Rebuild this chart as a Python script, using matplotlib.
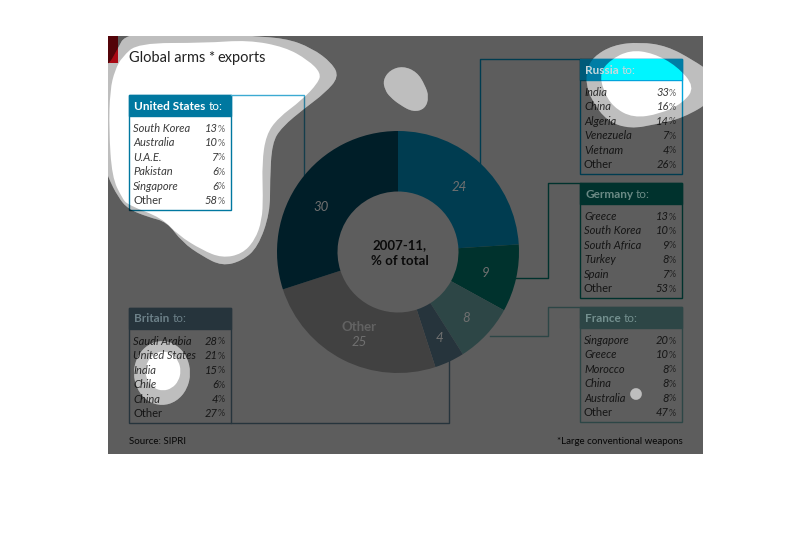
import numpy as np
import matplotlib
matplotlib.use("Agg")
import matplotlib.pyplot as plt
from matplotlib.path import Path
from matplotlib.patches import PathPatch, Rectangle

plt.rcParams['font.family'] = ['Lato', 'DejaVu Sans']

# ---- data ----
pie_values = [24, 9, 8, 4, 25, 30]
pie_colors = ['#00a5dc', '#00897b', '#7bc0c0', '#688ea4', '#b2b2b2', '#00526e']

us_names = ['South Korea', 'Australia', 'U.A.E.', 'Pakistan', 'Singapore', 'Other']
us_share = [13, 10, 7, 6, 6, 58]
russia_names = ['India', 'China', 'Algeria', 'Venezuela', 'Vietnam', 'Other']
russia_share = [33, 16, 14, 7, 4, 26]
germany_names = ['Greece', 'South Korea', 'South Africa', 'Turkey', 'Spain', 'Other']
germany_share = [13, 10, 9, 8, 7, 53]
france_names = ['Singapore', 'Greece', 'Morocco', 'China', 'Australia', 'Other']
france_share = [20, 10, 8, 8, 8, 47]
britain_names = ['Saudi Arabia', 'United States', 'India', 'Chile', 'China', 'Other']
britain_share = [28, 21, 15, 6, 4, 27]

# ---- attention overlay outlines (pixels) ----
big_outer = [(96, 66), (108, 66), (117, 50), (126, 33), (200, 28), (245, 36), (285, 38), (312, 48),
             (332, 63), (339, 77), (325, 93), (305, 108), (282, 127), (272, 143), (270, 180),
             (270, 213), (258, 247), (242, 261), (222, 266), (202, 256), (182, 242), (167, 222),
             (148, 217), (128, 209), (118, 197), (108, 177), (98, 150)]
big_inner = [(115, 70), (122, 57), (138, 43), (205, 43), (248, 40), (285, 47), (308, 60), (321, 73),
             (318, 83), (302, 100), (278, 118), (266, 135), (262, 163), (263, 197), (262, 220),
             (255, 240), (242, 254), (222, 258), (202, 250), (178, 235), (162, 218), (128, 205),
             (122, 198), (112, 177), (109, 130), (110, 90)]
russia_outer = [(587, 70), (593, 57), (613, 45), (640, 42), (667, 46), (693, 60), (712, 73), (714, 100),
                (683, 118), (657, 124), (630, 129), (607, 121), (592, 101), (586, 84)]
russia_inner = [(600, 73), (610, 60), (630, 50), (653, 53), (677, 66), (695, 87), (683, 103),
                (660, 114), (633, 118), (613, 107), (603, 90)]
top_blob = [(383, 80), (390, 70), (403, 66), (417, 72), (425, 85), (429, 97), (425, 109), (413, 112),
            (400, 105), (390, 97), (385, 90)]


def make_ax(z):
    ax = fig.add_axes([0, 0, 1, 1], zorder=z)
    ax.set_xlim(0, 810)
    ax.set_ylim(548, 0)
    ax.axis('off')
    return ax


def ellipse(cx, cy, rx, ry):
    t = np.deg2rad(np.arange(0, 360, 30))
    return list(zip(cx + rx * np.cos(t), cy + ry * np.sin(t)))


def blob_path(points, ccw=True):
    pts = np.array(points, float)
    x, y = pts[:, 0], pts[:, 1]
    area = np.sum(x * np.roll(y, -1) - np.roll(x, -1) * y)
    if (area > 0) != ccw:
        pts = pts[::-1]
    mids = (pts + np.roll(pts, -1, axis=0)) / 2
    verts = [mids[-1]]
    codes = [Path.MOVETO]
    for p, m in zip(pts, mids):
        verts += [p, m]
        codes += [Path.CURVE3, Path.CURVE3]
    return Path(verts, codes)


def box(ax, x0, y0, name, names, share, head_col, line_col, text_col='white', head_text=True):
    ax.add_patch(Rectangle((x0, y0), 102, 115, fc='none', ec=line_col, lw=1))
    ax.add_patch(Rectangle((x0, y0), 102, 21, fc=head_col, ec=line_col, lw=1))
    if head_text:
        head(ax, x0 + 5, y0 + 11, name, text_col)
    for i, (n, v) in enumerate(zip(names, share)):
        y = y0 + 33.5 + i * 14.4
        ax.text(x0 + 4, y, n, fontsize=8, style='normal' if n == 'Other' else 'italic',
                color='#3a3a3a', va='center', ha='left')
        ax.text(x0 + 89, y, str(v), fontsize=8, style='italic', color='#3a3a3a', va='center', ha='right')
        ax.text(x0 + 89, y + 0.5, '%', fontsize=6.5, color='#666666', va='center', ha='left')


def head(ax, x, y, name, col, **kw):
    t = ax.text(x, y, name, fontsize=8.5, fontweight='bold', color=col, va='center', ha='left', **kw)
    end = t.get_window_extent(fig.canvas.get_renderer()).x1
    t2 = ax.text(end + 3, y, 'to:', fontsize=8.5, color=col, va='center', ha='left', **kw)
    return [t, t2]


fig = plt.figure(figsize=(8.1, 5.48), dpi=100, facecolor='white')

# ---- base layer: connectors, boxes, text ----
base = make_ax(1)
conn_us = '#3caad2'
base.plot([231, 304, 304], [95, 95, 175], color=conn_us, lw=1)
base.plot([580, 480, 480], [59, 59, 165], color='#00a5dc', lw=1)
base.plot([580, 548, 548, 515], [183, 183, 278, 278], color='#00897b', lw=1)
base.plot([580, 548, 548, 490], [307, 307, 336, 336], color='#7bc0c0', lw=1)
base.plot([231, 449, 449], [423, 423, 358], color='#688ea4', lw=1)

box(base, 129, 95, 'United States', us_names, us_share, '#0078a0', '#0078a0')
box(base, 580, 59, 'Russia', russia_names, russia_share, '#00a5dc', '#00a5dc', head_text=False)
box(base, 580, 183, 'Germany', germany_names, germany_share, '#00897b', '#00897b', head_text=False)
box(base, 580, 307, 'France', france_names, france_share, '#7bc0c0', '#7bc0c0', head_text=False)
box(base, 129, 308, 'Britain', britain_names, britain_share, '#688ea4', '#688ea4', head_text=False)

base.add_patch(Rectangle((108, 36), 10, 27, fc='#e30d1b', ec='none'))
base.text(129, 58, 'Global arms', fontsize=10.5, color='#222222', va='center', ha='left')
base.text(211, 58, '*', fontsize=10.5, color='#222222', va='center', ha='center')
base.text(217, 58, 'exports', fontsize=10.5, color='#222222', va='center', ha='left')
base.text(129, 441, 'Source: SIPRI', fontsize=7, color='#111111', va='center', ha='left')
base.text(683, 441, '*Large conventional weapons', fontsize=7, color='#111111', va='center', ha='right')

# ---- doughnut ----
cx, cy, r = 398, 252, 121
pie_ax = fig.add_axes([(cx - r) / 810, 1 - (cy + r) / 548, 2 * r / 810, 2 * r / 548], zorder=2)
pie_ax.pie(pie_values, colors=pie_colors, startangle=90, counterclock=False, radius=1,
           wedgeprops=dict(width=0.5, linewidth=0))
pie_ax.set_xlim(-1, 1)
pie_ax.set_ylim(-1, 1)
pie_ax.axis('off')

# ---- dimming overlay ----
top = make_ax(3)
panel = Rectangle((108, 36), 595, 418, transform=top.transData)
britain_outer = ellipse(162, 373, 29, 33)
britain_inner = ellipse(163, 371, 18, 20)
dot = ellipse(636, 394, 6, 6)
outers = [big_outer, russia_outer, top_blob, britain_outer, dot]
inners = [big_inner, russia_inner, britain_inner]

rect = Path([(108, 36), (703, 36), (703, 454), (108, 454), (108, 36)],
            [Path.MOVETO, Path.LINETO, Path.LINETO, Path.LINETO, Path.CLOSEPOLY])
rect_pts = rect.vertices[:4]
rect_ccw = np.sum(rect_pts[:, 0] * np.roll(rect_pts[:, 1], -1) - np.roll(rect_pts[:, 0], -1) * rect_pts[:, 1]) > 0

dark_path = Path.make_compound_path(rect, *[blob_path(b, not rect_ccw) for b in outers])
dark = PathPatch(dark_path, fc='black', ec='none', alpha=0.635, zorder=5)
top.add_patch(dark)
dark.set_clip_path(panel)

ring_path = Path.make_compound_path(*[blob_path(b, True) for b in outers],
                                    *[blob_path(b, False) for b in inners])
ring = PathPatch(ring_path, fc='black', ec='none', alpha=0.255, zorder=5)
top.add_patch(ring)
ring.set_clip_path(panel)

# Russia header is saturated where the overlay is clear
head_rect = (580, 59), 102, 21
top.add_patch(Rectangle(*head_rect, fc='#005a78', ec='none', zorder=6))
p_outer = top.add_patch(Rectangle(*head_rect, fc='#007da5', ec='none', zorder=7))
p_outer.set_clip_path(PathPatch(blob_path(russia_outer), transform=top.transData))
p_inner = top.add_patch(Rectangle(*head_rect, fc='#00f5ff', ec='none', zorder=8))
p_inner.set_clip_path(PathPatch(blob_path(russia_inner), transform=top.transData))
head(top, 585, 70, 'Russia', '#c8d8dc', zorder=9)

# header text and doughnut labels sit on top of the dimming
head(top, 585, 194, 'Germany', '#6b8a85', zorder=9)
head(top, 585, 318, 'France', '#74908f', zorder=9)
head(top, 134, 319, 'Britain', '#6c8088', zorder=9)

label_col = '#707070'
for x, y, s in [(321, 207, '30'), (459, 187, '24'), (486, 273, '9'), (466, 318, '8'), (439, 338, '4'),
                (359, 342, '25')]:
    top.text(x, y, s, fontsize=9.5, style='italic', color=label_col, va='center', ha='center', zorder=9)
top.text(359, 327, 'Other', fontsize=9.5, fontweight='bold', color='#626262', va='center', ha='center', zorder=9)
top.text(400, 253, '2007-11,\n% of total', fontsize=9.5, fontweight='bold', color='#0a0a0a',
         va='center', ha='center', linespacing=1.45, zorder=9)

fig.savefig('out.png', dpi=100)
